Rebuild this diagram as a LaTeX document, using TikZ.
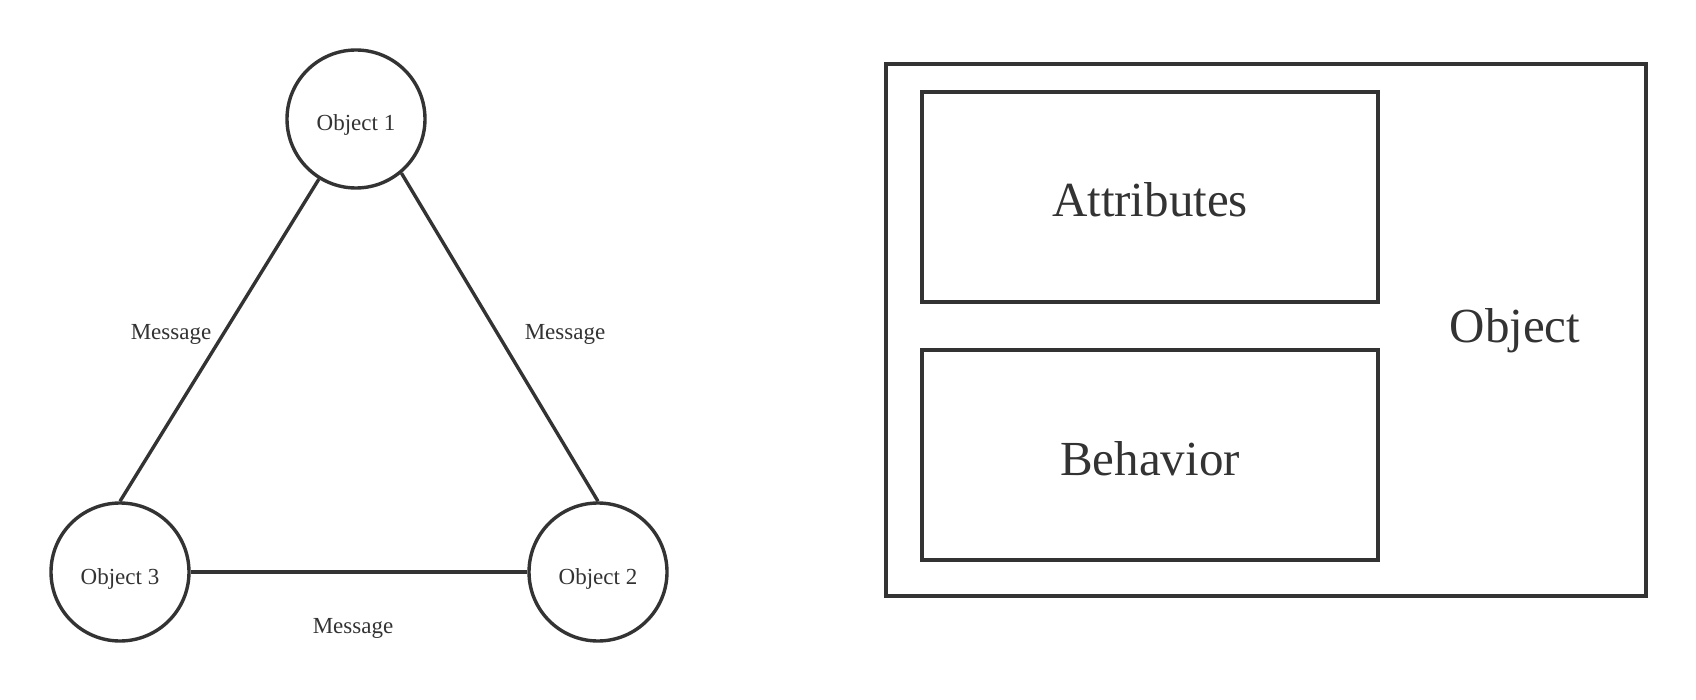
\documentclass[tikz,border=0pt]{standalone}
\usepackage{fontspec}
\setmainfont{Liberation Serif}
\definecolor{ink}{HTML}{333333}
\begin{document}
\begin{tikzpicture}[x=0.5pt,y=-0.5pt,
  obj/.style={circle,draw=ink,line width=1.7pt,minimum size=69pt,inner sep=0pt,
    text=ink,font=\fontsize{11.5pt}{13pt}\selectfont,text height=12pt,text depth=0pt},
  link/.style={draw=ink,line width=1.7pt},
  msg/.style={text=ink,font=\fontsize{11.5pt}{13pt}\selectfont,anchor=base,inner sep=0pt},
  part/.style={rectangle,draw=ink,line width=2pt,minimum width=228pt,minimum height=105pt,
    inner sep=0pt,text=ink,font=\fontsize{24.5pt}{29pt}\selectfont,text height=20pt,text depth=0pt},
  frame/.style={rectangle,draw=ink,line width=2pt,minimum width=380pt,minimum height=266pt,inner sep=0pt},
  big/.style={text=ink,font=\fontsize{24.5pt}{29pt}\selectfont,anchor=base,inner sep=0pt}]
\useasboundingbox[fill=white] (0,0) rectangle (1696,700);
% left: objects exchanging messages
\node[obj] (o1) at (356,119) {Object 1};
\node[obj] (o3) at (120,572) {Object 3};
\node[obj] (o2) at (598,572) {Object 2};
\draw[link] (o3.north) -- (o1);
\draw[link] (o2.north) -- (o1.-50);
\draw[link] (o3) -- (o2);
\node[msg] (m1) at (171,339) {Message};
\node[msg] (m2) at (565,339) {Message};
\node[msg] (m3) at (353,633) {Message};
% right: object structure
\node[frame] (obox) at (1266,330) {};
\node[part] (attr) at (1150,197) {Attributes};
\node[part] (beh) at (1150,455) {Behavior};
\node[big] (olabel) at (1515,342) {Object};
\end{tikzpicture}
\end{document}
